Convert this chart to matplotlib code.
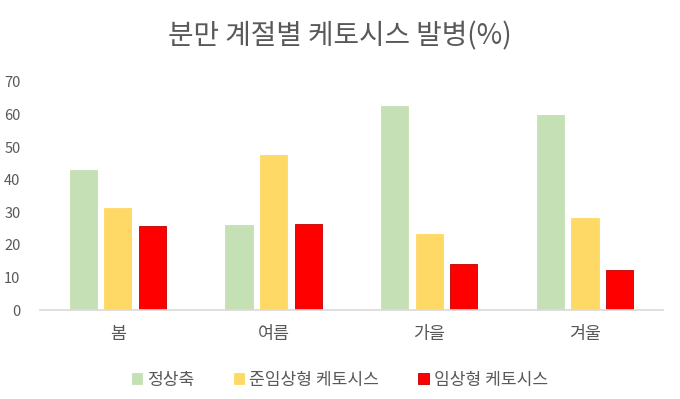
import matplotlib
matplotlib.use("Agg")
import matplotlib.pyplot as plt
import numpy as np

plt.rcParams['font.family'] = ['Noto Sans CJK KR', 'DejaVu Sans']

categories = ['봄', '여름', '가을', '겨울']
series_names = ['정상축', '준임상형 케토시스', '임상형 케토시스']
normal = [42.9, 26.2, 62.6, 59.8]
subclinical = [31.4, 47.4, 23.2, 28.1]
clinical = [25.7, 26.3, 14.1, 12.2]
yticks = [0, 10, 20, 30, 40, 50, 60, 70]

colors = ['#C5E0B4', '#FFD966', '#FF0000']
edges = ['#C5E0B4', '#FFD966', '#C00000']
text_color = '#595959'

fig = plt.figure(figsize=(6.8, 3.99), dpi=100)
ax = fig.add_axes([0.0588, 0.223, 0.916, 0.572])

x = np.arange(len(categories))
w = 0.175
step = 0.222
for i, (vals, c, ec, name) in enumerate(zip([normal, subclinical, clinical], colors, edges, series_names)):
    ax.bar(x + (i - 1) * step, vals, width=w, color=c, edgecolor=ec, linewidth=0.6, label=name)

ax.set_xlim(-0.5, len(categories) - 0.5)
ax.set_ylim(0, 70)
ax.set_yticks(yticks)
ax.set_yticklabels([str(t) for t in yticks], fontsize=10.5, color=text_color)
ax.set_xticks(x)
ax.set_xticklabels(categories, fontsize=12.5, color=text_color)
ax.tick_params(axis='both', length=0)
ax.tick_params(axis='y', pad=14)
ax.tick_params(axis='x', pad=11)
for s in ['top', 'right', 'left']:
    ax.spines[s].set_visible(False)
ax.spines['bottom'].set_color('#D9D9D9')
ax.spines['bottom'].set_linewidth(1.2)

fig.text(0.5, 0.908, '분만 계절별 케토시스 발병(%)', ha='center', va='center',
         fontsize=20, color=text_color)

leg = fig.legend(loc='center', bbox_to_anchor=(0.5, 0.048), ncol=3, frameon=False,
                 fontsize=12.3, handlelength=0.6, handleheight=0.6, handletextpad=0.3,
                 columnspacing=2.3)
for t in leg.get_texts():
    t.set_color(text_color)

fig.savefig('out.png', dpi=100)
